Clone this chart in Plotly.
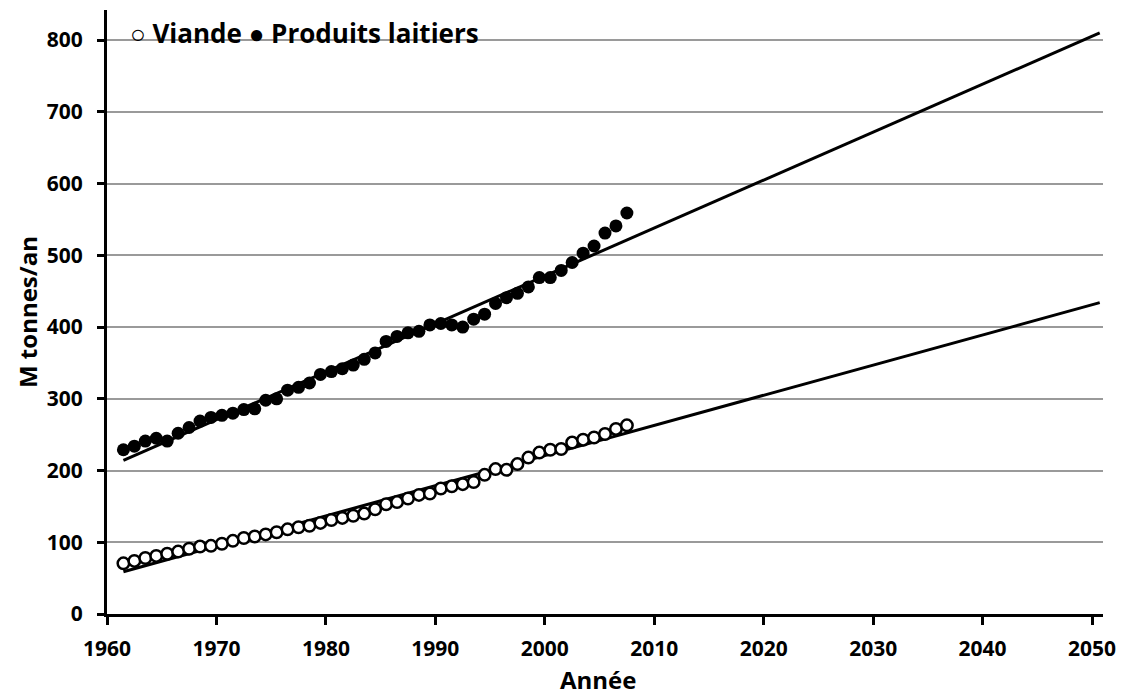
import plotly.graph_objects as go

years = list(range(1961, 2008))

dairy = [229, 234, 241, 245, 241, 252, 260, 269, 274, 277, 280, 285, 286, 298, 300,
         312, 316, 322, 334, 338, 342, 347, 355, 364, 380, 387, 392, 394, 403, 405,
         403, 400, 411, 418, 433, 441, 447, 456, 469, 469, 479, 490, 503, 513, 531,
         541, 559]

meat = [70.6, 74, 78, 81, 84, 87, 91, 94, 95, 98, 102, 106, 108, 111, 114, 118,
        121, 123, 127, 131, 134, 137, 140, 146, 153, 156, 161, 166, 168, 175, 178,
        181, 184, 194, 202, 201, 209, 218, 225, 229, 230, 239, 243, 246, 251, 258,
        263]

trend_years = [1961.5, 2050.7]
dairy_trend = [214, 810]
meat_trend = [59, 434]

x_ticks = list(range(1960, 2051, 10))
y_ticks = list(range(0, 801, 100))

mid_years = [y + 0.5 for y in years]

FONT = "Open Sans"

fig = go.Figure()

fig.add_trace(go.Scatter(x=trend_years, y=dairy_trend, mode="lines",
                         line=dict(color="black", width=3), showlegend=False,
                         hoverinfo="skip"))
fig.add_trace(go.Scatter(x=trend_years, y=meat_trend, mode="lines",
                         line=dict(color="black", width=3), showlegend=False,
                         hoverinfo="skip"))

fig.add_trace(go.Scatter(x=mid_years, y=dairy, mode="markers", name="Produits laitiers",
                         marker=dict(symbol="circle", size=13, color="black",
                                     line=dict(color="black", width=0)),
                         showlegend=False))
fig.add_trace(go.Scatter(x=mid_years, y=meat, mode="markers", name="Viande",
                         marker=dict(symbol="circle", size=11.5, color="white",
                                     line=dict(color="black", width=2.5)),
                         showlegend=False))

fig.add_annotation(text="<b>○ Viande ● Produits laitiers</b>", xref="paper", yref="paper",
                   x=0.021, y=0.962, xanchor="left", yanchor="middle", showarrow=False,
                   font=dict(family=FONT, size=26, color="black"))

fig.add_annotation(text="<b>M tonnes/an</b>", xref="paper", yref="paper",
                   x=0, xshift=-80, y=0.5, xanchor="center", yanchor="middle",
                   textangle=-90, showarrow=False, borderpad=0,
                   font=dict(family=FONT, size=24, color="black"))

fig.add_annotation(text="<b>Année</b>", xref="paper", yref="paper",
                   x=0.493, y=0, yshift=-65, xanchor="center", yanchor="middle",
                   showarrow=False, borderpad=0,
                   font=dict(family=FONT, size=24, color="black"))

fig.update_layout(
    width=1122, height=687,
    margin=dict(l=99, r=27, t=2, b=81),
    paper_bgcolor="white", plot_bgcolor="white",
    font=dict(family=FONT, color="black"),
    xaxis=dict(
        range=[1960, 2051], tickmode="array", tickvals=x_ticks,
        ticktext=[f"<b>{t}</b>" for t in x_ticks],
        tickfont=dict(size=21, family=FONT),
        showgrid=False, zeroline=False, automargin=False,
        showline=True, linecolor="black", linewidth=3,
        ticks="outside", ticklen=8, tickwidth=2.5, tickcolor="black",
        ticklabelstandoff=6,
    ),
    yaxis=dict(
        range=[0, 842], tickmode="array", tickvals=y_ticks,
        ticktext=[f"<b>{t}</b>" for t in y_ticks],
        tickfont=dict(size=21, family=FONT),
        showgrid=True, gridcolor="#9a9a9a", gridwidth=2,
        zeroline=False, automargin=False,
        showline=True, linecolor="black", linewidth=3,
        ticks="outside", ticklen=7, tickwidth=2.5, tickcolor="black",
        ticklabelstandoff=10,
    ),
)

fig.write_html("out.html")
